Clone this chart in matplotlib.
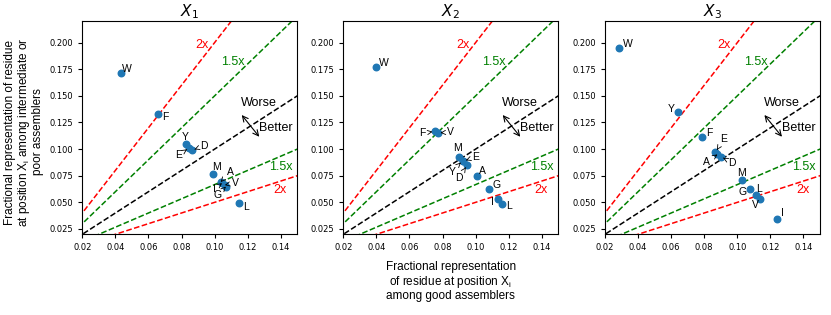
import matplotlib
matplotlib.use("Agg")
import matplotlib.pyplot as plt
import numpy as np

plt.rcParams['font.family'] = ['Liberation Sans', 'DejaVu Sans']

titles = ["$X_1$", "$X_2$", "$X_3$"]

# Panel data: residue letters, x (good assemblers), y (intermediate/poor)
p1_res = ["W", "F", "Y", "E", "D", "M", "A", "I", "V", "G", "L"]
p1_x = [0.0434, 0.0657, 0.0825, 0.0847, 0.0863, 0.0992, 0.1037, 0.1045, 0.1062, 0.1068, 0.1149]
p1_y = [0.1712, 0.1330, 0.1048, 0.1012, 0.0988, 0.0766, 0.0691, 0.0680, 0.0662, 0.0648, 0.0497]

p2_res = ["W", "F", "V", "M", "Y", "E", "D", "A", "G", "I", "L"]
p2_x = [0.0398, 0.0756, 0.0771, 0.0900, 0.0922, 0.0926, 0.0950, 0.1006, 0.1079, 0.1137, 0.1161]
p2_y = [0.1770, 0.1167, 0.1151, 0.0929, 0.0892, 0.0886, 0.0850, 0.0747, 0.0625, 0.0529, 0.0485]

p3_res = ["W", "Y", "F", "E", "A", "D", "M", "G", "L", "V", "I"]
p3_x = [0.0287, 0.0643, 0.0788, 0.0868, 0.0880, 0.0900, 0.1026, 0.1077, 0.1111, 0.1138, 0.1243]
p3_y = [0.1952, 0.1351, 0.1111, 0.0970, 0.0950, 0.0930, 0.0707, 0.0628, 0.0569, 0.0529, 0.0344]

# label placement (data coords) and whether an arrow is drawn
p1_lab = {"W": (0.0468, 0.1750, False), "F": (0.0700, 0.1304, False), "Y": (0.0825, 0.1117, False),
          "E": (0.0780, 0.0942, True), "D": (0.0936, 0.1032, True), "M": (0.1010, 0.0835, False),
          "A": (0.1093, 0.0788, True), "V": (0.1127, 0.0685, True), "I": (0.0996, 0.0623, True),
          "G": (0.1020, 0.0569, True), "L": (0.1188, 0.0460, False)}
p2_lab = {"W": (0.0448, 0.1806, False), "F": (0.0676, 0.1148, True), "V": (0.0850, 0.1160, True),
          "M": (0.0890, 0.1007, False), "E": (0.1002, 0.0929, True), "Y": (0.0856, 0.0788, True),
          "D": (0.0900, 0.0732, True), "A": (0.1041, 0.0794, False), "G": (0.1126, 0.0663, False),
          "I": (0.1102, 0.0506, False), "L": (0.1199, 0.0468, False)}
p3_lab = {"W": (0.0337, 0.1984, False), "Y": (0.0603, 0.1380, False), "F": (0.0829, 0.1154, False),
          "E": (0.0916, 0.1092, True), "A": (0.0816, 0.0879, True), "D": (0.0970, 0.0872, True),
          "M": (0.1026, 0.0773, False), "G": (0.1034, 0.0597, False), "L": (0.1132, 0.0625, False),
          "V": (0.1111, 0.0475, False), "I": (0.1270, 0.0397, False)}

panels = [(p1_res, p1_x, p1_y, p1_lab), (p2_res, p2_x, p2_y, p2_lab), (p3_res, p3_x, p3_y, p3_lab)]

ratios = [2.0, 1.5, 1.0, 1 / 1.5, 0.5]
ratio_colors = ["red", "green", "black", "green", "red"]
xticks = [0.02, 0.04, 0.06, 0.08, 0.10, 0.12, 0.14]
yticks = [0.025, 0.050, 0.075, 0.100, 0.125, 0.150, 0.175, 0.200]

fig = plt.figure(figsize=(8.31, 3.15), dpi=100)
lefts = [82.3, 343.3, 605.0]
W, H = 831, 315
for i, (res, xs, ys, lab) in enumerate(panels):
    ax = fig.add_axes([lefts[i] / W, 1 - 234.3 / H, 215 / W, 213 / H])
    xl = np.array([0.0, 0.2])
    for r, c in zip(ratios, ratio_colors):
        ax.plot(xl, r * xl, ls="--", color=c, lw=1.1, zorder=1)
    ax.scatter(xs, ys, s=22, color="#1f77b4", zorder=3)
    for name, x, y in zip(res, xs, ys):
        tx, ty, arr = lab[name]
        if arr:
            ax.annotate(name, xy=(x, y), xytext=(tx, ty), fontsize=7.5, ha="center", va="center",
                        arrowprops=dict(arrowstyle="->", color="black", lw=0.6, shrinkA=2, shrinkB=2))
        else:
            ax.text(tx, ty, name, fontsize=7.5, ha="center", va="center")
    ax.text(0.0922, 0.198, "2x", color="red", fontsize=9, ha="center", va="center")
    ax.text(0.1113, 0.182, "1.5x", color="green", fontsize=9, ha="center", va="center")
    ax.text(0.1401, 0.0835, "1.5x", color="green", fontsize=9, ha="center", va="center")
    ax.text(0.1395, 0.0616, "2x", color="red", fontsize=9, ha="center", va="center")
    ax.text(0.127, 0.143, "Worse", fontsize=9, ha="center", va="center")
    ax.text(0.137, 0.120, "Better", fontsize=9, ha="center", va="center")
    ax.annotate("", xy=(0.1164, 0.132), xytext=(0.127, 0.1116),
                arrowprops=dict(arrowstyle="<->", color="black", lw=0.8, shrinkA=0, shrinkB=0))
    ax.set_xlim(0.02, 0.15)
    ax.set_ylim(0.02, 0.22)
    ax.set_xticks(xticks)
    ax.set_xticklabels([f"{t:.2f}" for t in xticks], family="DejaVu Sans")
    ax.set_yticks(yticks)
    ax.set_yticklabels([f"{t:.3f}" for t in yticks], family="DejaVu Sans")
    ax.tick_params(labelsize=6, length=3)
    ax.set_title(titles[i], fontsize=11, pad=3)
    if i == 0:
        ax.set_ylabel("Fractional representation of residue\nat position X$_\\mathregular{i}$ among intermediate or\npoor assemblers",
                      fontsize=8.5, linespacing=1.0)
        ax.yaxis.set_label_coords(-0.177, 0.48)
    if i == 1:
        ax.set_xlabel("Fractional representation\nof residue at position X$_\\mathregular{i}$\namong good assemblers",
                      fontsize=8.5, linespacing=1.05)
        ax.xaxis.set_label_coords(0.5, -0.127)

fig.savefig("out.png", dpi=100)
